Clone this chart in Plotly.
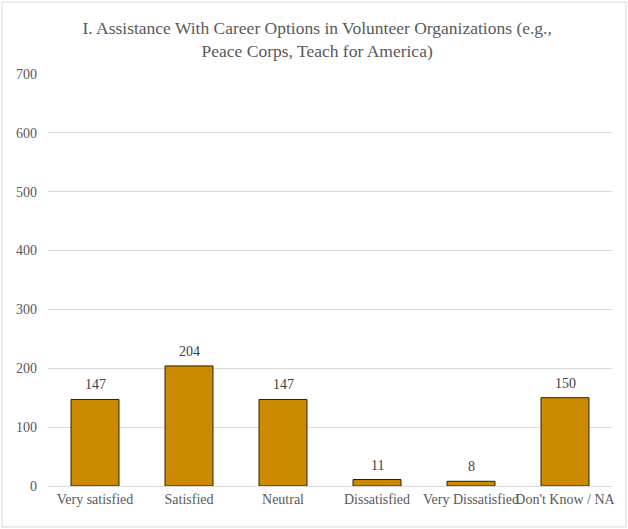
import plotly.graph_objects as go

categories = ["Very satisfied", "Satisfied", "Neutral", "Dissatisfied", "Very Dissatisfied", "Don't Know / NA"]
values = [147, 204, 147, 11, 8, 150]
y_ticks = [0, 100, 200, 300, 400, 500, 600, 700]

W, H = 628, 529
ml, mr, mt, mb = 48, 16, 74, 43
pw = W - ml - mr
ph = H - mt - mb
SERIF = "Liberation Serif, Times New Roman, serif"

fig = go.Figure(go.Bar(
    x=categories, y=values,
    marker=dict(color="#CC8A00", line=dict(color="#2a1f00", width=1)),
    width=0.51,
))

for c, v in zip(categories, values):
    fig.add_annotation(
        x=c, y=v, text=str(v), showarrow=False, yanchor="bottom", yshift=5,
        font=dict(family=SERIF, size=14, color="#404040"),
    )

fig.update_layout(
    width=W, height=H,
    margin=dict(l=ml, r=mr, t=mt, b=mb),
    paper_bgcolor="white", plot_bgcolor="white",
    title=dict(
        text="I. Assistance With Career Options in Volunteer Organizations (e.g.,<br>Peace Corps, Teach for America)",
        x=0.505, xanchor="center", y=0.936, yanchor="top",
        font=dict(family=SERIF, size=17.5, color="#595959"),
    ),
    font=dict(family=SERIF, size=14, color="#595959"),
    showlegend=False,
    xaxis=dict(
        showgrid=False, showline=True, linecolor="#D9D9D9", linewidth=1,
        ticks="", tickangle=0, automargin=False,
        tickfont=dict(family=SERIF, size=14, color="#595959"),
    ),
    yaxis=dict(
        range=[0, 700], tickvals=y_ticks, showgrid=True, gridcolor="#D9D9D9",
        zeroline=False, showline=False, ticks="", ticklabelstandoff=10, automargin=False,
        tickfont=dict(family=SERIF, size=14, color="#595959"),
    ),
    shapes=[dict(
        type="rect", xref="paper", yref="paper",
        x0=(2 - ml) / pw, x1=(W - 2 - ml) / pw,
        y0=-(H - 2 - (H - mb)) / ph, y1=(H - mb - 2) / ph,
        line=dict(color="#D9D9D9", width=1), fillcolor="rgba(0,0,0,0)", layer="below",
    )],
)

fig.write_html("out.html", config={"displayModeBar": False},
               post_script="document.body.style.margin='0';")
